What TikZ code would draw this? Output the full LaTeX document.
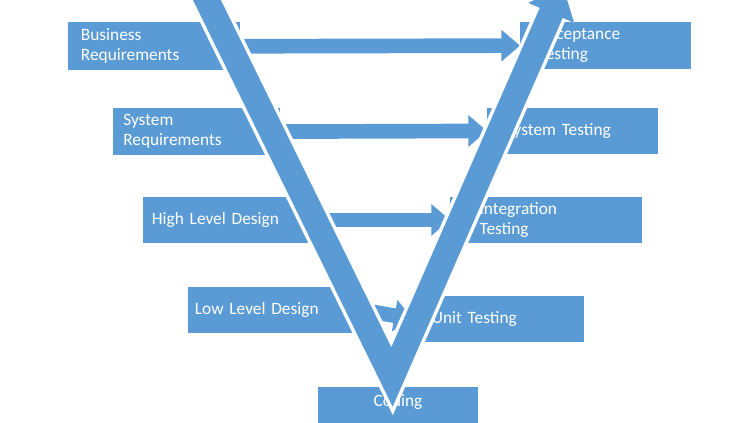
\documentclass[tikz,border=0pt]{standalone}
\usepackage{fontspec}
\setmainfont{Carlito}
\usetikzlibrary{arrows.meta}
\definecolor{vblue}{HTML}{5B9BD5}
\tikzset{
  box/.style={fill=vblue, text=white, anchor=north west, align=left, font=\fontsize{13}{15}\selectfont, inner ysep=0pt},
  across/.style={vblue, line width=11pt, -{Triangle[width=23pt,length=14pt]}},
  band/.style={vblue, line width=18.75pt, line join=miter,
    preaction={draw=white, line width=24pt}}
}
\begin{document}
\begin{tikzpicture}[x=0.75pt,y=-0.75pt]
	\useasboundingbox (0,0) rectangle (750,422);
	\clip (0,0) rectangle (750,422);

	% left side
	\node[box, minimum width=129pt, minimum height=36pt, text width=110pt, inner xsep=5pt] (busreq) at (68,22) {Business\\Requirements};
	\node[box, minimum width=125pt, minimum height=35pt, text width=110pt, inner xsep=5pt] (sysreq) at (113,108) {System\\Requirements};
	\node[box, minimum width=133pt, minimum height=34pt, text width=120pt, inner xsep=5pt] (hld) at (143,197) {High Level Design};
	\node[box, minimum width=129pt, minimum height=34pt, text width=120pt, inner xsep=5pt] (lld) at (188,287) {Low Level Design};

	% right side
	\node[box, minimum width=128pt, minimum height=35pt, text width=100pt, inner xsep=14pt] (acctest) at (520,22) {Acceptance\\Testing};
	\node[box, minimum width=128pt, minimum height=34pt, text width=100pt, inner xsep=14pt] (systest) at (487,108) {System Testing};
	\node[box, minimum width=135pt, minimum height=34pt, text width=100pt, inner xsep=22pt] (inttest) at (450,197) {Integration\\Testing};
	\node[box, minimum width=127pt, minimum height=34pt, text width=100pt, inner xsep=14pt] (unittest) at (413,296) {Unit Testing};

	\node[box, anchor=north, minimum width=120pt, minimum height=40pt, text width=100pt, align=center, inner ysep=4pt, text depth=20pt] (coding) at (398,387) {Coding};

	% arrows across
	\draw[across] (busreq.east) -- (acctest.west);
	\draw[across] (sysreq.east) -- (systest.west);
	\draw[across] (hld.east) -- (inttest.west);
	\draw[across] (lld.east) -- (unittest.west);

	% the V
	\draw[band, -{Triangle[width=36pt,length=22pt]}] (203,-8) -- (392,377) -- (563,-14);
\end{tikzpicture}
\end{document}
